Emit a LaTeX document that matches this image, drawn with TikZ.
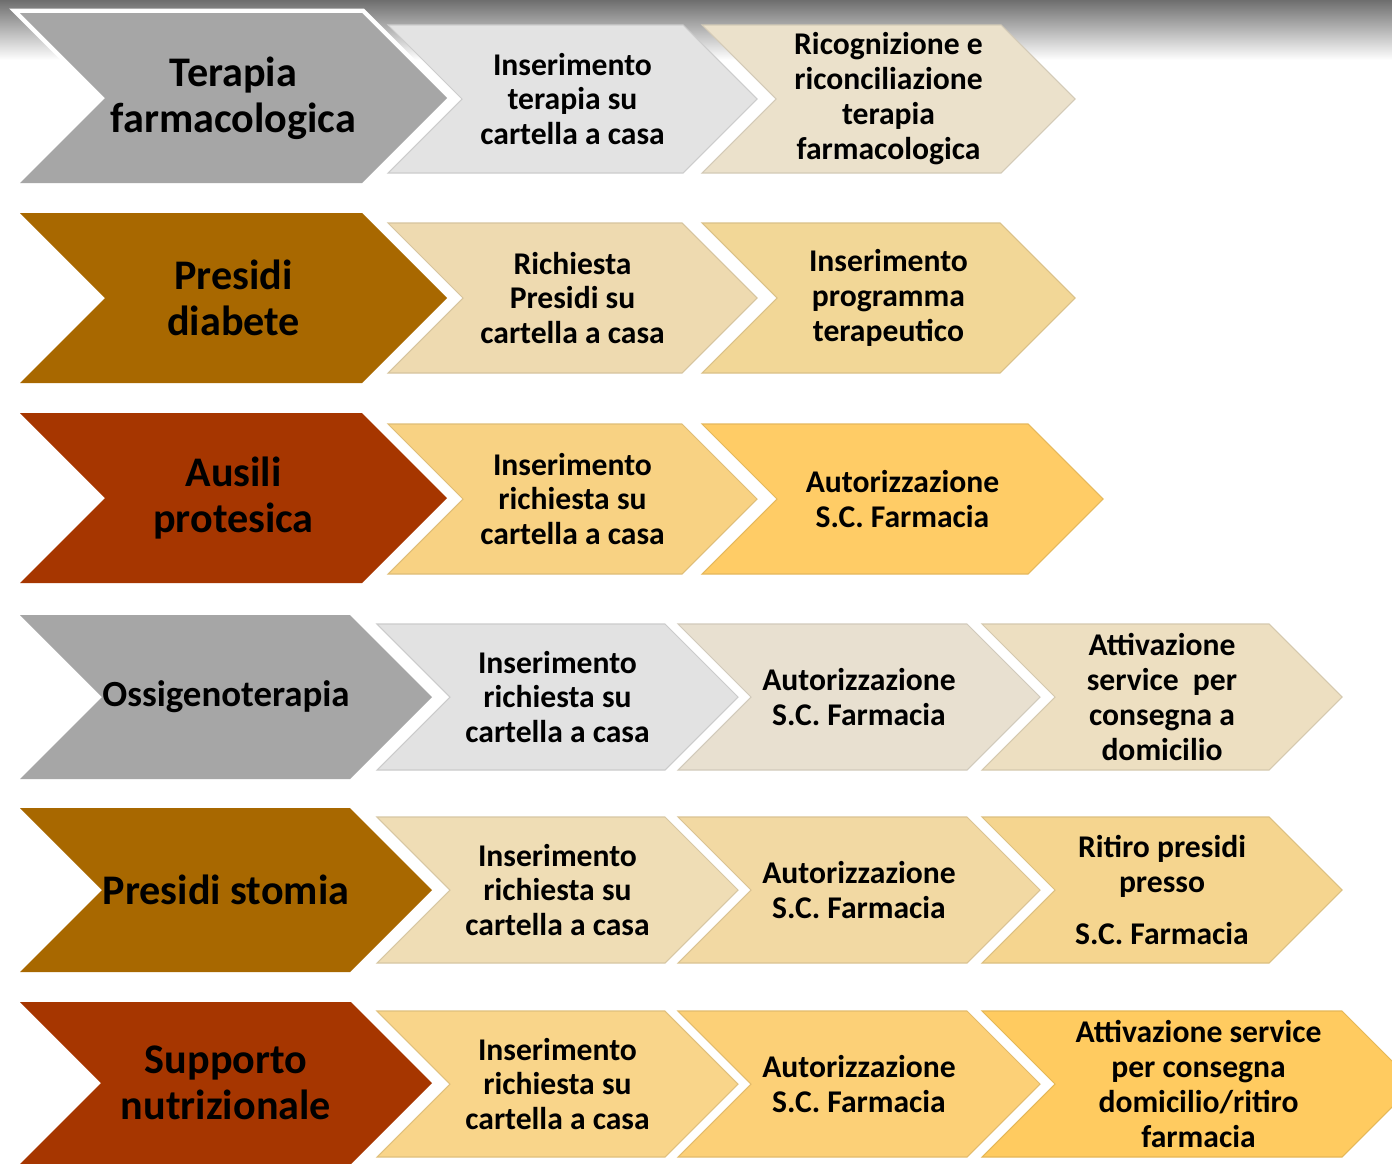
\documentclass[tikz,border=0pt]{standalone}
\usepackage{fontspec}
\setmainfont{Carlito}
\usetikzlibrary{arrows.meta}
\tikzset{>=latex}

\definecolor{bgTop}{HTML}{6E6E6E}
\definecolor{bigGray}{HTML}{A6A6A6}
\definecolor{bigGold}{HTML}{A86800}
\definecolor{bigRust}{HTML}{A63600}

\tikzset{
	chevBig/.style={preaction={draw=white,line width=0.18cm,line join=miter}},
	chevSmall/.style={draw=#1!90!black,line width=0.6pt},
	txtBig/.style={align=center,font=\bfseries\fontsize{24}{26.2}\selectfont},
	txtSmall/.style={align=center,font=\bfseries\fontsize{18}{19.9}\selectfont}
}

\begin{document}
\begin{tikzpicture}[x=0.02cm,y=-0.02cm]
			\path[use as bounding box,clip] (0,0) rectangle (1392,1163);
			\fill[white] (0,0) rectangle (1392,1163);
			\shade[top color=bgTop,bottom color=white] (0,0) rectangle (1392,60);
%-----Big chevrons on the left-----
			\foreach \xl/\xr/\yc/\hh/\col/\nm/\txt in {
					20/447/98/85/bigGray/terapia/{Terapia\\farmacologica},
					20/447/298/85/bigGold/diabete/{Presidi\\diabete},
					20/447/498/85/bigRust/ausili/{Ausili\\protesica},
					20/432/697/82/bigGray/ossigeno/{\fontsize{21}{26}\selectfont Ossigenoterapia},
					20/432/890/82/bigGold/stomia/{Presidi stomia},
					20/432/1083/81/bigRust/supporto/{Supporto\\nutrizionale}}
				{
					\path[chevBig,fill=\col] (\xl,\yc-\hh) -- (\xr-\hh,\yc-\hh) -- (\xr,\yc) -- (\xr-\hh,\yc+\hh) -- (\xl,\yc+\hh) -- (\xl+\hh,\yc) -- cycle;
					\node[txtBig] (\nm) at ({(\xl+\xr)/2},\yc) {\txt};
				}
%-----Steps of each row-----
			\foreach \xl/\xr/\yc/\hh/\hex/\nm/\txt in {
					388/757/99/74/E3E3E3/terapiaA/{Inserimento\\terapia su\\cartella a casa},
					702/1075/99/74/EBE1CB/terapiaB/{Ricognizione e\\riconciliazione\\terapia\\farmacologica},
					388/757/298/75/EEDAB0/diabeteA/{Richiesta\\Presidi su\\cartella a casa},
					702/1075/298/75/F2D797/diabeteB/{Inserimento\\programma\\terapeutico},
					388/757/499/75/F8D283/ausiliA/{Inserimento\\richiesta su\\cartella a casa},
					702/1103/499/75/FFCC66/ausiliB/{Autorizzazione\\S.C. Farmacia},
					377/738/697/73/E2E2E2/ossigenoA/{Inserimento\\richiesta su\\cartella a casa},
					678/1040/697/73/E8E0D0/ossigenoB/{Autorizzazione\\S.C. Farmacia},
					982/1342/697/73/EDDFC1/ossigenoC/{Attivazione\\service~ per\\consegna a\\domicilio},
					377/738/890/73/EFDDB5/stomiaA/{Inserimento\\richiesta su\\cartella a casa},
					678/1040/890/73/F2D9A3/stomiaB/{Autorizzazione\\S.C. Farmacia},
					982/1342/890/73/F5D58F/stomiaC/{Ritiro presidi\\presso\\[0.34cm]S.C. Farmacia},
					377/738/1084/73/F9D58A/supportoA/{Inserimento\\richiesta su\\cartella a casa},
					678/1040/1084/73/FCD077/supportoB/{Autorizzazione\\S.C. Farmacia},
					982/1415/1084/73/FFCB60/supportoC/{Attivazione service\\per consegna\\{domicilio/ritiro}\\farmacia}}
				{
					\definecolor{stepFill}{HTML}{\hex}
					\path[chevSmall=stepFill,fill=stepFill] (\xl,\yc-\hh) -- (\xr-\hh,\yc-\hh) -- (\xr,\yc) -- (\xr-\hh,\yc+\hh) -- (\xl,\yc+\hh) -- (\xl+\hh,\yc) -- cycle;
					\node[txtSmall] (\nm) at ({(\xl+\xr)/2},\yc) {\txt};
				}
		\end{tikzpicture}
\end{document}
